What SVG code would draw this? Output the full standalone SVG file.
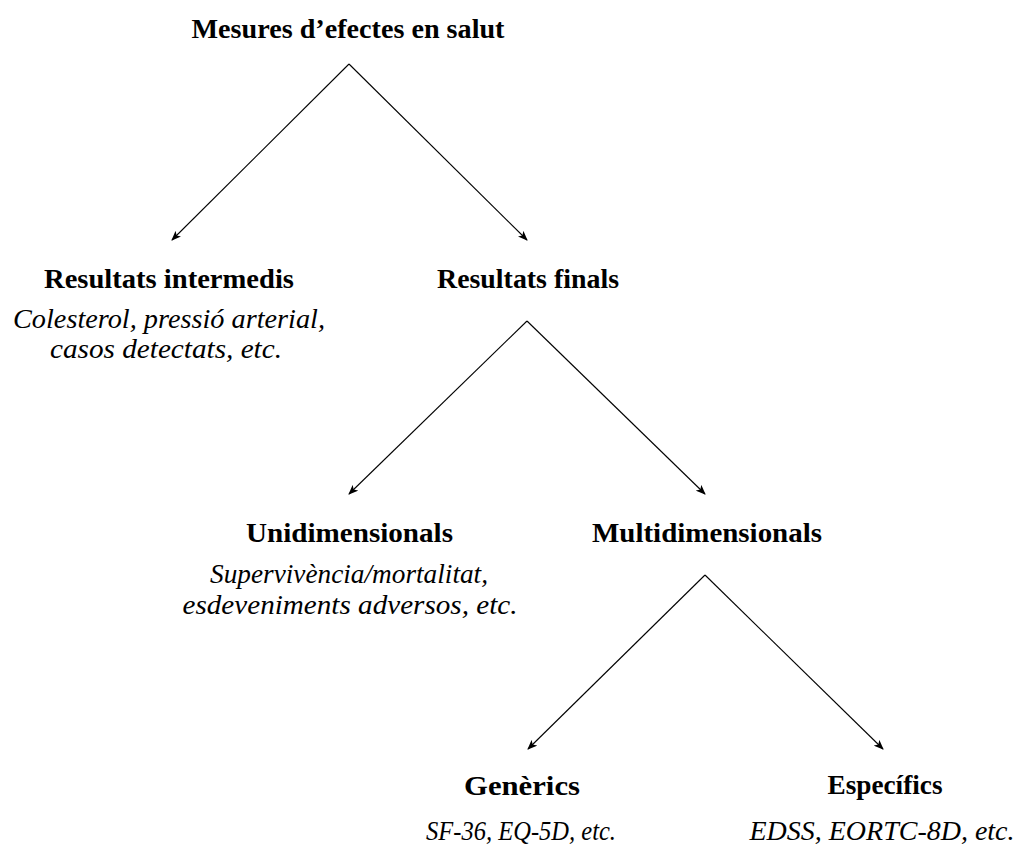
<svg xmlns="http://www.w3.org/2000/svg" width="1019" height="855" viewBox="0 0 1019 855">
<style>
.b{font-family:"Liberation Serif","DejaVu Serif",serif;font-weight:bold;font-size:27px;fill:#000;text-anchor:middle}
.i{font-family:"Liberation Serif","DejaVu Serif",serif;font-style:italic;font-size:27px;fill:#000;text-anchor:middle}
.e{stroke:#000;stroke-width:1.1;fill:none;marker-end:url(#ah)}
</style>
<defs>
<marker id="ah" viewBox="0 0 10 8" refX="9" refY="4" markerWidth="10" markerHeight="8" markerUnits="userSpaceOnUse" orient="auto">
<path d="M0,0 L10,4 L0,8 L2.5,4 Z" fill="#000"/>
</marker>
</defs>
<rect width="1019" height="855" fill="#fff"/>
<g id="n0"><text class="b" x="348" y="38" textLength="313" lengthAdjust="spacingAndGlyphs">Mesures d’efectes en salut</text></g>
<g id="n1"><text class="b" x="169" y="288" textLength="250" lengthAdjust="spacingAndGlyphs">Resultats intermedis</text>
<text class="i" x="169" y="328" textLength="312" lengthAdjust="spacingAndGlyphs">Colesterol, pressió arterial,</text>
<text class="i" x="166" y="358" textLength="232" lengthAdjust="spacingAndGlyphs">casos detectats, etc.</text></g>
<g id="n2"><text class="b" x="528" y="288" textLength="182" lengthAdjust="spacingAndGlyphs">Resultats finals</text></g>
<g id="n3"><text class="b" x="349.5" y="542" textLength="207" lengthAdjust="spacingAndGlyphs">Unidimensionals</text>
<text class="i" x="349" y="583" textLength="278" lengthAdjust="spacingAndGlyphs">Supervivència/mortalitat,</text>
<text class="i" x="350" y="614" textLength="335" lengthAdjust="spacingAndGlyphs">esdeveniments adversos, etc.</text></g>
<g id="n4"><text class="b" x="707" y="542" textLength="230" lengthAdjust="spacingAndGlyphs">Multidimensionals</text></g>
<g id="n5"><text class="b" x="522" y="795" textLength="116" lengthAdjust="spacingAndGlyphs">Genèrics</text>
<text class="i" x="521" y="840" textLength="190" lengthAdjust="spacingAndGlyphs">SF-36, EQ-5D, etc.</text></g>
<g id="n6"><text class="b" x="885" y="794" textLength="115" lengthAdjust="spacingAndGlyphs">Específics</text>
<text class="i" x="882" y="840" textLength="265" lengthAdjust="spacingAndGlyphs">EDSS, EORTC-8D, etc.</text></g>
<g id="edges">
<line class="e" x1="349" y1="64" x2="172" y2="240"/>
<line class="e" x1="349" y1="64" x2="527" y2="240"/>
<line class="e" x1="527" y1="321" x2="349" y2="494"/>
<line class="e" x1="527" y1="321" x2="705" y2="494"/>
<line class="e" x1="705" y1="575" x2="528" y2="749"/>
<line class="e" x1="705" y1="575" x2="883" y2="749"/>
</g>
</svg>
